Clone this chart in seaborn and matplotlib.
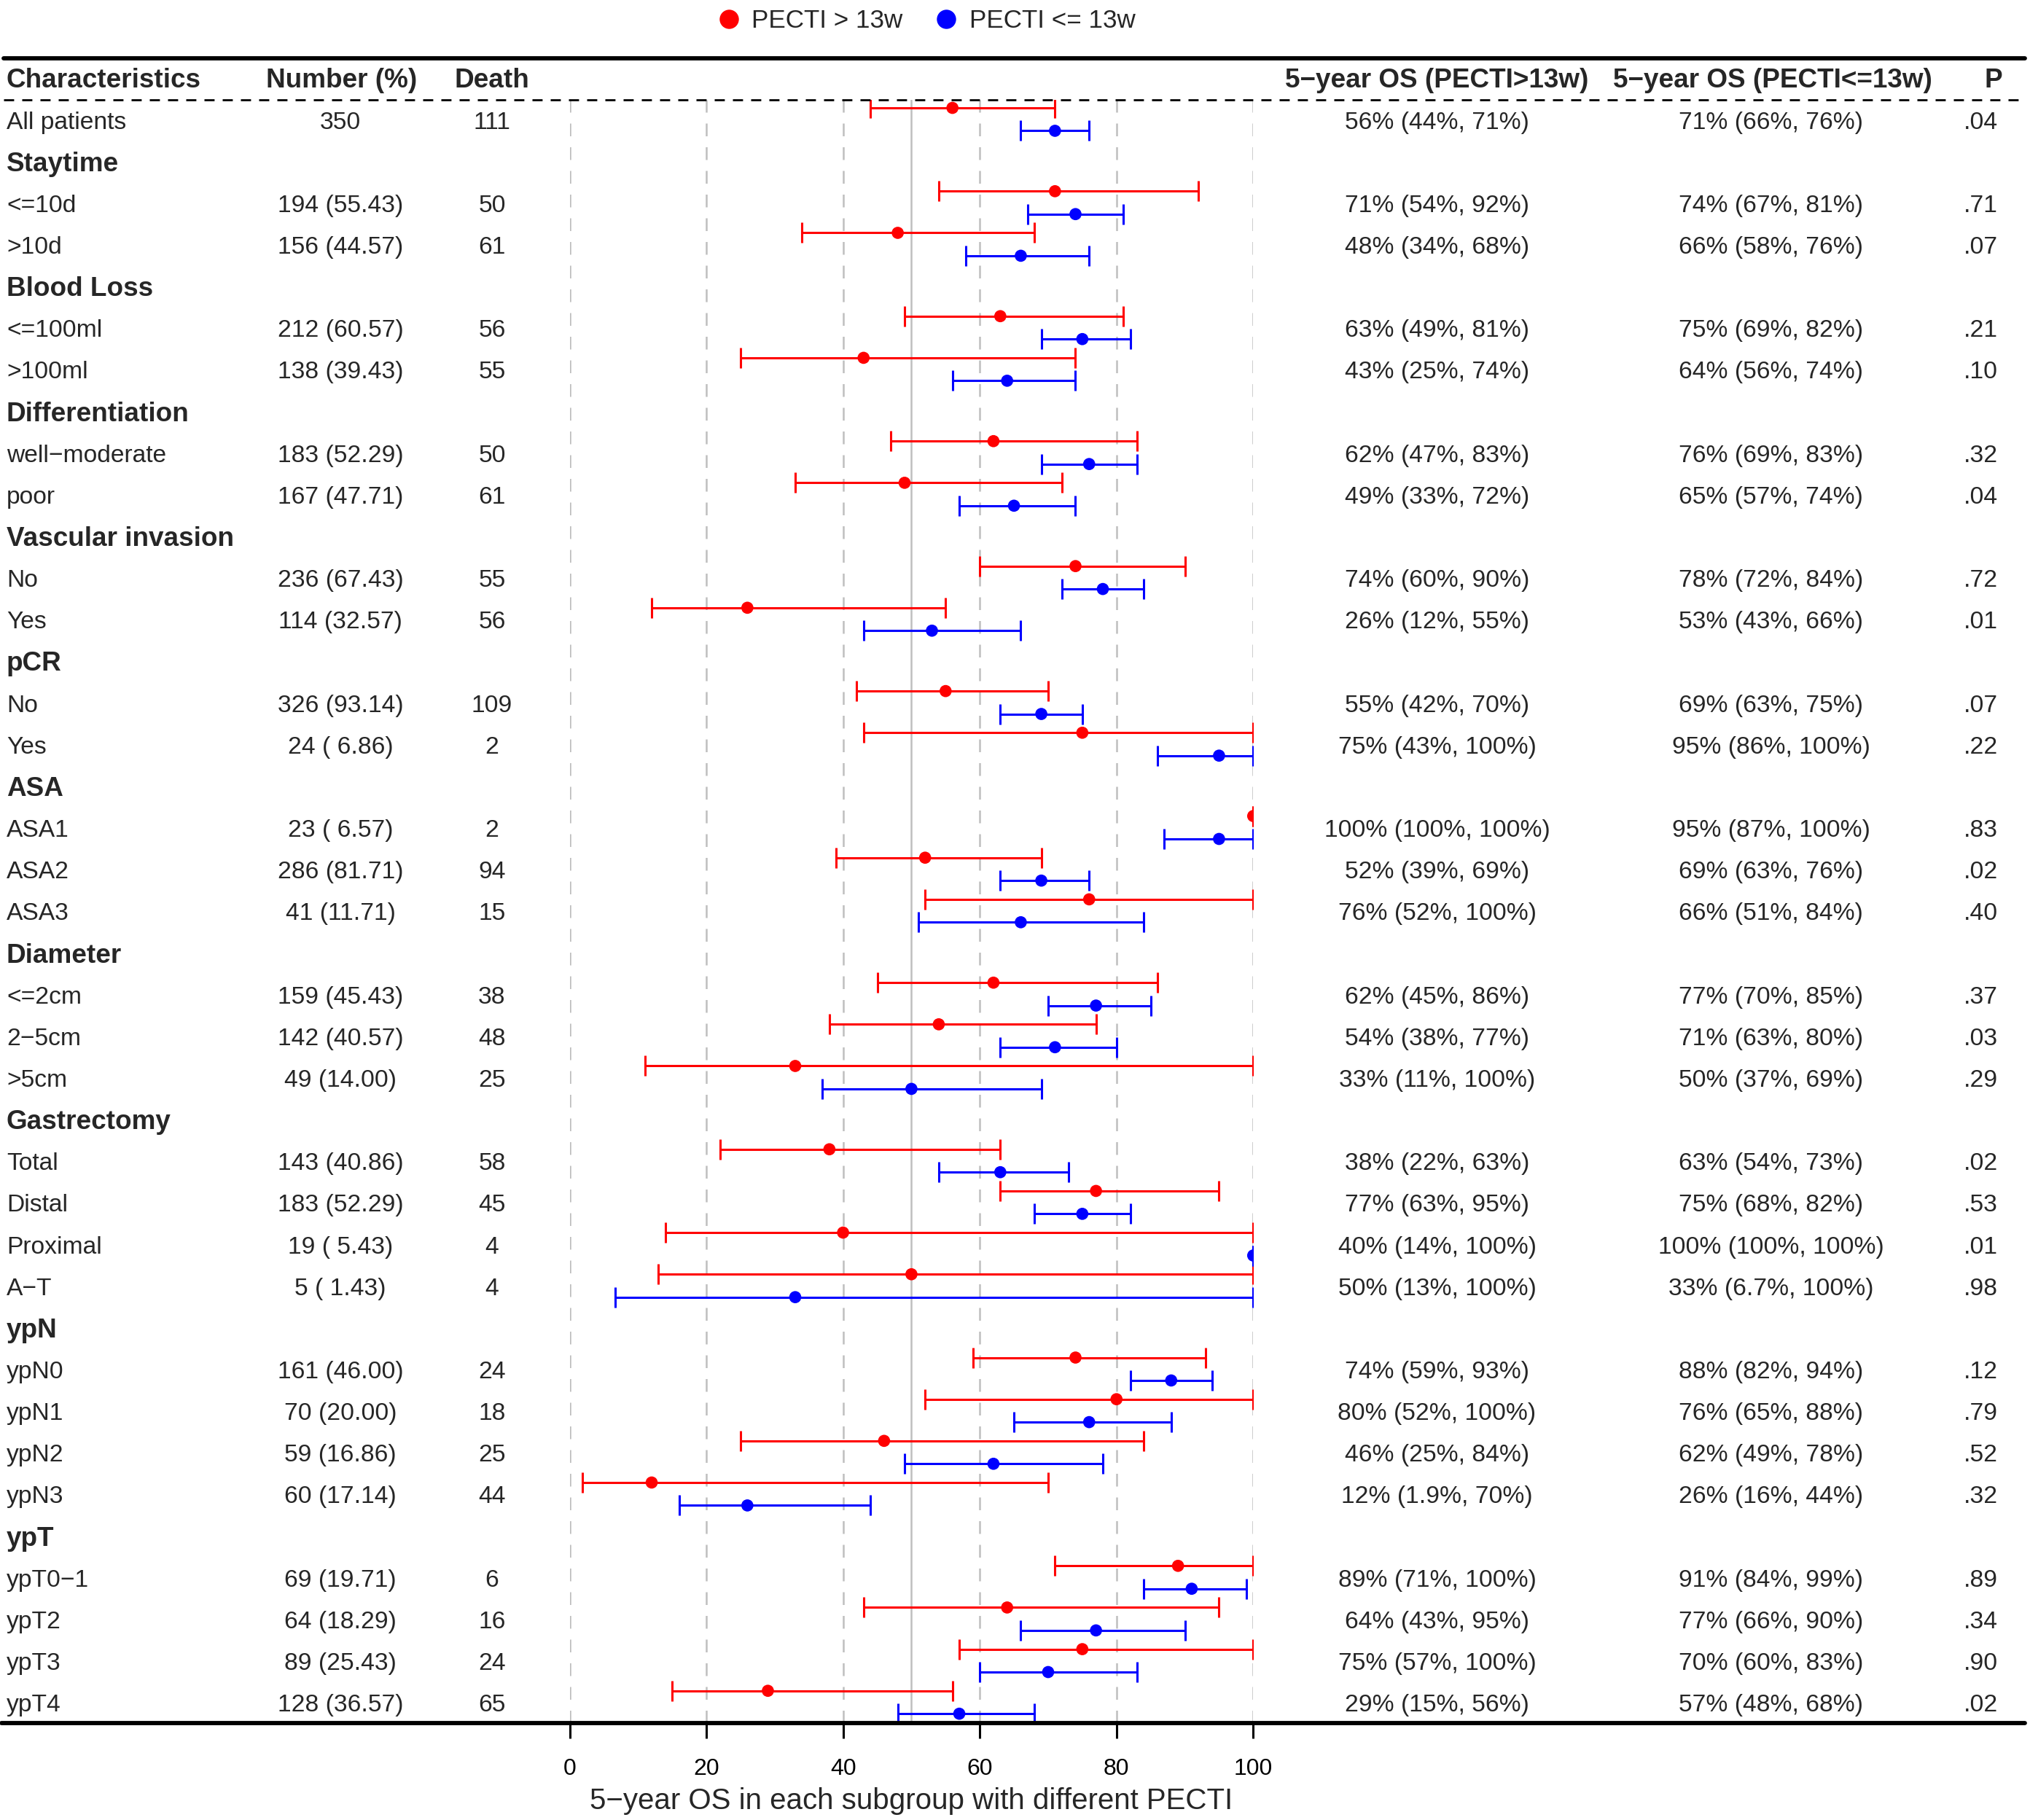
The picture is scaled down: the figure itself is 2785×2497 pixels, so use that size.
import matplotlib
matplotlib.use("Agg")
import matplotlib.pyplot as plt
import matplotlib.transforms as mtransforms
from matplotlib.lines import Line2D
import numpy as np
import pandas as pd
import seaborn as sns

# ---- data ----
row_labels = ['All patients', 'Staytime', '<=10d', '>10d', 'Blood Loss', '<=100ml', '>100ml',
              'Differentiation', 'well−moderate', 'poor', 'Vascular invasion', 'No', 'Yes',
              'pCR', 'No', 'Yes', 'ASA', 'ASA1', 'ASA2', 'ASA3', 'Diameter', '<=2cm', '2−5cm',
              '>5cm', 'Gastrectomy', 'Total', 'Distal', 'Proximal', 'A−T', 'ypN', 'ypN0', 'ypN1',
              'ypN2', 'ypN3', 'ypT', 'ypT0−1', 'ypT2', 'ypT3', 'ypT4']
group_rows = [1, 4, 7, 10, 13, 16, 20, 24, 29, 34]

number_pct = ['350', '', '194 (55.43)', '156 (44.57)', '', '212 (60.57)', '138 (39.43)',
              '', '183 (52.29)', '167 (47.71)', '', '236 (67.43)', '114 (32.57)',
              '', '326 (93.14)', '24 ( 6.86)', '', '23 ( 6.57)', '286 (81.71)', '41 (11.71)',
              '', '159 (45.43)', '142 (40.57)', '49 (14.00)', '', '143 (40.86)', '183 (52.29)',
              '19 ( 5.43)', '5 ( 1.43)', '', '161 (46.00)', '70 (20.00)', '59 (16.86)',
              '60 (17.14)', '', '69 (19.71)', '64 (18.29)', '89 (25.43)', '128 (36.57)']
deaths = ['111', '', '50', '61', '', '56', '55', '', '50', '61', '', '55', '56', '', '109', '2',
          '', '2', '94', '15', '', '38', '48', '25', '', '58', '45', '4', '4', '', '24', '18',
          '25', '44', '', '6', '16', '24', '65']

nan = np.nan
hi_est = [56, nan, 71, 48, nan, 63, 43, nan, 62, 49, nan, 74, 26, nan, 55, 75, nan, 100, 52, 76,
          nan, 62, 54, 33, nan, 38, 77, 40, 50, nan, 74, 80, 46, 12, nan, 89, 64, 75, 29]
hi_low = [44, nan, 54, 34, nan, 49, 25, nan, 47, 33, nan, 60, 12, nan, 42, 43, nan, 100, 39, 52,
          nan, 45, 38, 11, nan, 22, 63, 14, 13, nan, 59, 52, 25, 1.9, nan, 71, 43, 57, 15]
hi_up = [71, nan, 92, 68, nan, 81, 74, nan, 83, 72, nan, 90, 55, nan, 70, 100, nan, 100, 69, 100,
         nan, 86, 77, 100, nan, 63, 95, 100, 100, nan, 93, 100, 84, 70, nan, 100, 95, 100, 56]

lo_est = [71, nan, 74, 66, nan, 75, 64, nan, 76, 65, nan, 78, 53, nan, 69, 95, nan, 95, 69, 66,
          nan, 77, 71, 50, nan, 63, 75, 100, 33, nan, 88, 76, 62, 26, nan, 91, 77, 70, 57]
lo_low = [66, nan, 67, 58, nan, 69, 56, nan, 69, 57, nan, 72, 43, nan, 63, 86, nan, 87, 63, 51,
          nan, 70, 63, 37, nan, 54, 68, 100, 6.7, nan, 82, 65, 49, 16, nan, 84, 66, 60, 48]
lo_up = [76, nan, 81, 76, nan, 82, 74, nan, 83, 74, nan, 84, 66, nan, 75, 100, nan, 100, 76, 84,
         nan, 85, 80, 69, nan, 73, 82, 100, 100, nan, 94, 88, 78, 44, nan, 99, 90, 83, 68]

p_values = ['.04', '', '.71', '.07', '', '.21', '.10', '', '.32', '.04', '', '.72', '.01', '',
            '.07', '.22', '', '.83', '.02', '.40', '', '.37', '.03', '.29', '', '.02', '.53',
            '.01', '.98', '', '.12', '.79', '.52', '.32', '', '.89', '.34', '.90', '.02']

series_names = ['PECTI > 13w', 'PECTI <= 13w']
series_colors = ['#FF0000', '#0000FF']

# ---- layout (reference measured on a 1568 x 1406 grid) ----
W, H = 1568.0, 1406.0
ROW0, ROWH = 93.0, 32.18


def fx(px):
    return px / W


def fy(py):
    return 1 - py / H


def row_of(py):
    return (py - ROW0) / ROWH


sns.set_theme(style="white")
plt.rcParams['font.family'] = ['Liberation Sans', 'DejaVu Sans']

fig = plt.figure(figsize=(13.925, 12.485), dpi=200)
ax = fig.add_axes([fx(440), fy(1331), fx(968) - fx(440), (1331 - 77) / H])

rows = np.arange(len(row_labels))
offsets = [-0.30, 0.25]
TXT = 0.05  # text sits a touch below the row centre

# reference gridlines
for g in [0, 20, 40, 60, 80, 100]:
    ax.axvline(g, color='#BEBEBE', lw=0.9, dashes=(7, 6), zorder=0)
ax.axvline(50, color='#BEBEBE', lw=0.9, zorder=0)

# error bars + points
frames = []
for name, col, off, est, lo, up in [
        (series_names[0], series_colors[0], offsets[0], hi_est, hi_low, hi_up),
        (series_names[1], series_colors[1], offsets[1], lo_est, lo_low, lo_up)]:
    est = np.array(est, dtype=float)
    lo = np.array(lo, dtype=float)
    up = np.array(up, dtype=float)
    ok = ~np.isnan(est)
    y = rows[ok] + off
    ax.errorbar(est[ok], y, xerr=[est[ok] - lo[ok], up[ok] - est[ok]], fmt='none',
                ecolor=col, elinewidth=1.1, capsize=5, capthick=1.1, zorder=2)
    frames.append(pd.DataFrame({'os': est[ok], 'y': y, 'group': name}))

df = pd.concat(frames, ignore_index=True)
sns.scatterplot(data=df, x='os', y='y', hue='group', palette=series_colors,
                s=36, linewidth=0, legend=False, ax=ax, zorder=3)

ax.set_xlim(0, 100)
ax.set_ylim(row_of(1331), row_of(77))
ax.set_xticks([0, 20, 40, 60, 80, 100])
ax.set_yticks([])
for s in ax.spines.values():
    s.set_visible(False)
ax.tick_params(axis='x', bottom=True, direction='out', length=7.5, width=1.1,
               pad=10, labelsize=11.5, colors='black')
ax.set_xlabel('5−year OS in each subgroup with different PECTI', fontsize=14.5, labelpad=3.5)
ax.set_ylabel('')

# table text
tr = mtransforms.blended_transform_factory(fig.transFigure, ax.transData)
hy = -1.0 + TXT
head_kw = dict(transform=tr, fontsize=13.3, fontweight='bold', va='center', clip_on=False)
ax.text(fx(5), hy, 'Characteristics', ha='left', **head_kw)
ax.text(fx(264), hy, 'Number (%)', ha='center', **head_kw)
ax.text(fx(380), hy, 'Death', ha='center', **head_kw)
ax.text(fx(1110), hy, '5−year OS (PECTI>13w)', ha='center', **head_kw)
ax.text(fx(1369), hy, '5−year OS (PECTI<=13w)', ha='center', **head_kw)
ax.text(fx(1540), hy, 'P', ha='center', **head_kw)


def os_text(e, l, u):
    return f"{e:g}% ({l:g}%, {u:g}%)"


body_kw = dict(transform=tr, fontsize=12.1, va='center', clip_on=False)
for i, lab in enumerate(row_labels):
    ty = i + TXT
    if i in group_rows:
        ax.text(fx(5), ty, lab, ha='left', transform=tr, fontsize=13.3,
                fontweight='bold', va='center', clip_on=False)
        continue
    ax.text(fx(5), ty, lab, ha='left', **body_kw)
    ax.text(fx(263), ty, number_pct[i], ha='center', **body_kw)
    ax.text(fx(380), ty, deaths[i], ha='center', **body_kw)
    ax.text(fx(1110), ty, os_text(hi_est[i], hi_low[i], hi_up[i]), ha='center', **body_kw)
    ax.text(fx(1368), ty, os_text(lo_est[i], lo_low[i], lo_up[i]), ha='center', **body_kw)
    ax.text(fx(1530), ty, p_values[i], ha='center', **body_kw)

# horizontal rules
fig.add_artist(Line2D([fx(3), fx(1564)], [fy(45), fy(45)], color='black', lw=2.1,
                      transform=fig.transFigure))
fig.add_artist(Line2D([fx(3), fx(1564)], [fy(77), fy(77)], color='black', lw=1.0,
                      dashes=(5, 4), transform=fig.transFigure))
fig.add_artist(Line2D([fx(1), fx(1564)], [fy(1331), fy(1331)], color='black', lw=2.1,
                      transform=fig.transFigure))

# legend
handles = [Line2D([], [], marker='o', linestyle='none', color=c, markersize=8.5)
           for c in series_colors]
fig.legend(handles, series_names, loc='center', bbox_to_anchor=(fx(713), fy(16)), ncol=2,
           frameon=False, fontsize=12.6, handlelength=1.4, handletextpad=0.2,
           columnspacing=1.0, borderaxespad=0, borderpad=0)

fig.savefig('out.png', dpi=200)
